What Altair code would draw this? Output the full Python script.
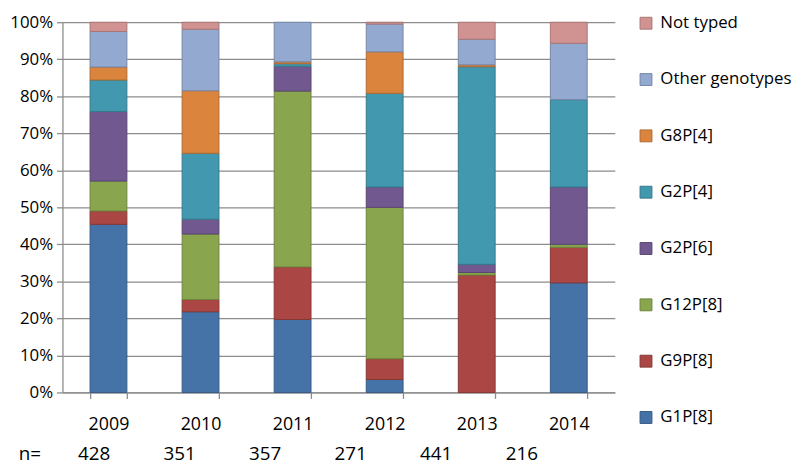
import altair as alt
import pandas as pd

FONT = "Open Sans"

years = ["2009", "2010", "2011", "2012", "2013", "2014"]
counts = ["428", "351", "357", "271", "441", "216"]

# stacking order, bottom to top
genotypes = ["G1P[8]", "G9P[8]", "G12P[8]", "G2P[6]", "G2P[4]", "G8P[4]",
             "Other genotypes", "Not typed"]

g1p8 = [45.4, 21.8, 19.7, 3.5, 0.0, 29.6]
g9p8 = [3.6, 3.3, 14.2, 5.6, 31.7, 9.6]
g12p8 = [8.1, 17.7, 47.5, 40.9, 0.7, 0.8]
g2p6 = [18.8, 4.0, 6.7, 5.5, 2.2, 15.5]
g2p4 = [8.5, 17.8, 0.7, 25.3, 53.4, 23.6]
g8p4 = [3.5, 16.9, 0.5, 11.2, 0.5, 0.0]
other = [9.6, 16.6, 10.7, 7.5, 6.9, 15.2]
not_typed = [2.5, 1.9, 0.0, 0.5, 4.6, 5.7]

series = [g1p8, g9p8, g12p8, g2p6, g2p4, g8p4, other, not_typed]

fills = ["#4572A7", "#AA4643", "#89A54E", "#71588F", "#4198AF", "#DB843D",
         "#93A9CF", "#D19392"]
strokes = ["#375B86", "#883836", "#6E843E", "#5A4672", "#347A8C", "#AF6A31",
           "#7687A6", "#A77675"]

rows = []
for rank, (g, vals) in enumerate(zip(genotypes, series)):
    for y, v in zip(years, vals):
        if v > 0:
            rows.append({"year": y, "genotype": g, "value": v, "rank": rank})
df = pd.DataFrame(rows)

legend_order = genotypes[::-1]
fill_range = fills[::-1]
stroke_range = strokes[::-1]

legend_cfg = dict(
    title=None, orient="none", legendX=581, legendY=-7.5, padding=0,
    rowPadding=38.9, symbolType="square", symbolSize=144, symbolStrokeWidth=1,
    labelFont=FONT, labelFontSize=17, labelColor="#000000", labelOffset=6,
    labelLimit=300,
)

bars = alt.Chart(df).mark_bar(strokeWidth=1).encode(
    x=alt.X("year:N", sort=years,
            scale=alt.Scale(paddingInner=0.6, paddingOuter=0.3),
            axis=alt.Axis(title=None, labelAngle=0, tickBand="extent",
                          tickSize=6, labelPadding=17, labelFontSize=18,
                          grid=False)),
    y=alt.Y("value:Q", stack="zero",
            scale=alt.Scale(domain=[0, 100], nice=False),
            axis=alt.Axis(title=None, values=list(range(0, 101, 10)),
                          labelExpr="datum.value + '%'", grid=True,
                          tickSize=6, labelPadding=4, labelFontSize=17)),
    fill=alt.Fill("genotype:N",
                  scale=alt.Scale(domain=legend_order, range=fill_range),
                  legend=alt.Legend(**legend_cfg)),
    stroke=alt.Stroke("genotype:N",
                      scale=alt.Scale(domain=legend_order, range=stroke_range),
                      legend=alt.Legend(**legend_cfg)),
    order=alt.Order("rank:Q", sort="ascending"),
)

ndf = pd.DataFrame({"n": counts})
ntext = alt.Chart(ndf).mark_text(
    font=FONT, fontSize=19, baseline="middle", color="#000000"
).encode(
    x=alt.X("n:N", sort=None,
            scale=alt.Scale(type="point", padding=0.729, align=0.254),
            axis=None),
    y=alt.value(436),
    text="n:N",
)

nlabel = alt.Chart(pd.DataFrame({"t": ["n="]})).mark_text(
    font=FONT, fontSize=19, baseline="middle", color="#000000"
).encode(
    x=alt.value(-33),
    y=alt.value(436),
    text="t:N",
)

chart = alt.layer(bars, ntext, nlabel).resolve_scale(x="independent").properties(
    width=558,
    height=374,
    autosize=alt.AutoSizeParams(type="none"),
    padding={"left": 55, "top": 12, "right": 179, "bottom": 80},
).configure_view(stroke=None).configure_axis(
    labelFont=FONT, labelColor="#000000", domainColor="#8C8C8C",
    tickColor="#8C8C8C", gridColor="#8C8C8C", domainWidth=1.3,
    tickWidth=1.3, gridWidth=1.3,
)

chart.save("out.html", embed_options={"renderer": "svg", "actions": False})
